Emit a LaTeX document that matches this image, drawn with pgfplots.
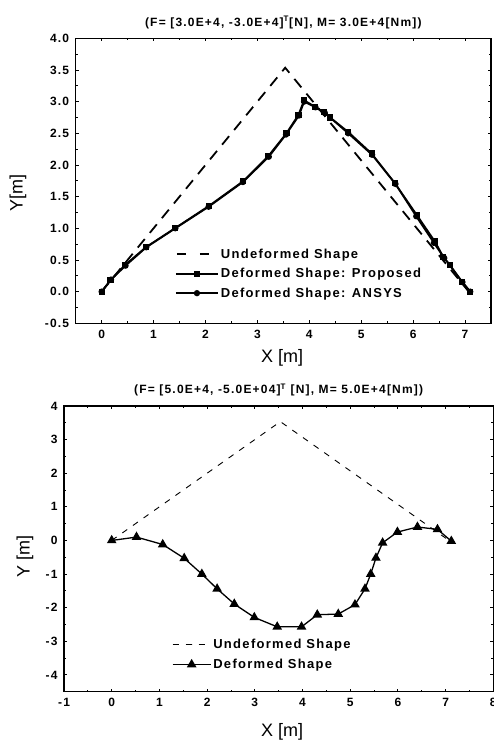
\documentclass[border=0pt]{standalone}
\usepackage{pgfplots}
\pgfplotsset{compat=1.18}
\usepackage{fontspec}
\setmainfont{Liberation Sans}
\newfontfamily\tfont[LetterSpace=10]{Liberation Sans}
\begin{document}
\begin{tikzpicture}
\useasboundingbox (0pt,0pt) rectangle (493pt,741pt);
\pgfplotsset{
  every axis/.append style={
    scale only axis,
    axis line style={line width=1.2pt},
    tick align=inside,
    major tick length=3pt,
    minor tick length=1.8pt,
    every tick/.style={black,line width=0.8pt},
    minor x tick num=1,
    minor y tick num=1,
    /pgf/number format/assume math mode=true,
    tick label style={font=\tfont\bfseries\fontsize{12}{13}\selectfont},
    xticklabel style={yshift=-3pt},
    yticklabel style={xshift=-3pt},
    label style={font=\fontsize{18}{20}\selectfont},
    title style={font=\tfont\bfseries\fontsize{12}{13}\selectfont},
    legend style={draw=none,fill=none,font=\tfont\bfseries\fontsize{13}{15}\selectfont,
      legend cell align=left, row sep=4.5pt, inner sep=0pt},
    clip=false,
  }
}
% ---------------- top axis ----------------
\begin{axis}[
  at={(75.7pt,417.7pt)}, anchor=south west,
  width=415.3pt, height=285pt,
  xmin=-0.5, xmax=7.5, ymin=-0.5, ymax=4.0,
  xtick={0,1,...,7},
  ytick={-0.5,0,0.5,1.0,1.5,2.0,2.5,3.0,3.5,4.0},
  yticklabel style={/pgf/number format/fixed,/pgf/number format/fixed zerofill,/pgf/number format/precision=1},
  xlabel={X [m]}, ylabel={Y[m]},
  xlabel style={at={(axis description cs:0.497,-0.122)},anchor=center},
  ylabel style={at={(axis description cs:-0.139,0.457)},anchor=center},
  title={(F= [3.0E+4, -3.0E+4]\textsuperscript{T}[N], M= 3.0E+4[Nm])},
  legend image code/.code={\draw[#1,mark repeat=2,mark phase=2] plot coordinates {(0pt,0pt) (21pt,0pt) (42pt,0pt)};},
  legend style={at={(axis cs:1.41,0.71)},anchor=north west},
]
\addplot[black,line width=1.8pt,dash pattern=on 11pt off 8pt,
  legend image code/.code={\draw[black,line width=1.8pt,dash pattern=on 9pt off 14pt] (1pt,0pt) -- (42pt,0pt);}] coordinates {(0,0) (3.5355,3.5355) (7.071,0)};
\addlegendentry{Undeformed Shape}
\addplot[black,line width=1.8pt,mark=square*,mark size=2.2pt] coordinates {
(0,0) (0.17,0.18) (0.45,0.42) (0.85,0.70) (1.41,1.00) (2.07,1.355) (2.73,1.746) (3.21,2.14) (3.56,2.50) (3.79,2.79) (3.90,3.02)
(4.11,2.92) (4.28,2.83) (4.40,2.75) (4.75,2.52) (5.20,2.18) (5.65,1.71) (6.07,1.21) (6.42,0.79) (6.58,0.55) (6.71,0.42) (6.94,0.155) (7.10,0.0)};
\addlegendentry{Deformed Shape: Proposed}
\addplot[black,line width=1.8pt,mark=*,mark size=2.2pt] coordinates {
(0,0) (0.18,0.19) (0.46,0.41) (0.86,0.70) (1.42,1.00) (2.06,1.34) (2.72,1.73) (3.22,2.13) (3.55,2.48) (3.80,2.78) (3.90,3.00)
(4.12,2.91) (4.30,2.82) (4.75,2.50) (5.21,2.16) (5.66,1.70) (6.06,1.19) (6.40,0.77) (6.60,0.53) (6.95,0.15) (7.10,0.0)};
\addlegendentry{Deformed Shape: ANSYS}
\end{axis}
% ---------------- bottom axis ----------------
\begin{axis}[
  at={(64pt,49.3pt)}, anchor=south west,
  width=429.3pt, height=285.7pt,
  xmin=-1, xmax=8, ymin=-4.5, ymax=4,
  xtick={-1,0,...,8},
  ytick={-4,-3,...,4},
  xlabel={X [m]}, ylabel={Y [m]},
  xlabel style={at={(axis description cs:0.508,-0.140)},anchor=center},
  ylabel style={at={(axis description cs:-0.091,0.473)},anchor=center},
  title={(F= [5.0E+4, -5.0E+04]\textsuperscript{T} [N], M= 5.0E+4[Nm])},
  legend image code/.code={\draw[#1,mark repeat=2,mark phase=2] plot coordinates {(0pt,0pt) (19pt,0pt) (38pt,0pt)};},
  legend style={at={(axis cs:1.26,-2.87)},anchor=north west, row sep=5pt},
]
\addplot[black,line width=0.9pt,dash pattern=on 6pt off 7pt] coordinates {(0,0) (3.5355,3.5355) (7.071,0)};
\addlegendentry{Undeformed Shape}
\addplot[black,line width=1.3pt,mark=triangle*,mark size=4.3pt] coordinates {
(0.0,0.0) (0.52,0.10) (1.07,-0.12) (1.52,-0.53) (1.89,-1.0) (2.21,-1.44) (2.57,-1.89) (2.99,-2.29) (3.47,-2.57) (3.98,-2.57)
(4.31,-2.21) (4.75,-2.19) (5.10,-1.91) (5.31,-1.44) (5.43,-1.0) (5.54,-0.52) (5.68,-0.07) (5.99,0.25) (6.41,0.40) (6.83,0.33) (7.12,-0.02)};
\addlegendentry{Deformed Shape}
\end{axis}
\end{tikzpicture}
\end{document}
